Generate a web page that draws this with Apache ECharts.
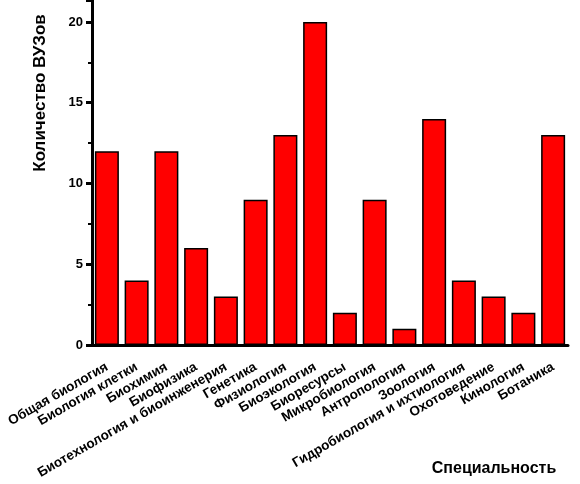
<!DOCTYPE html>
<html><head><meta charset="utf-8">
<script src="https://cdn.jsdelivr.net/npm/echarts@6/dist/echarts.min.js"></script>
<style>html,body{margin:0;padding:0;background:#fff}#c{width:580px;height:484px}</style>
</head><body><div id="c"></div>
<script>
const categories = ["Общая биология","Биология клетки","Биохимия","Биофизика","Биотехнология и биоинженерия","Генетика","Физиология","Биоэкология","Биоресурсы","Микробиология","Антропология","Зоология","Гидробиология и ихтиология","Охотоведение","Кинология","Ботаника"];
const values = [12,4,12,6,3,9,13,20,2,9,1,14,4,3,2,13];
const yTicks = [0,5,10,15,20];
const yTitle = "Количество ВУЗов";
const xTitle = "Специальность";

const chart = echarts.init(document.getElementById('c'), null, {renderer:'canvas'});
const F = 'Arial, "Liberation Sans", sans-serif';
chart.setOption({
  animation:false,
  backgroundColor:'#fff',
  grid:{left:92, right:12, top:0, bottom:139, containLabel:false},
  xAxis:{
    type:'category', data:categories,
    axisLine:{lineStyle:{color:'#000', width:3}},
    axisTick:{alignWithLabel:true, length:6, lineStyle:{color:'#000', width:3}},
    axisLabel:{rotate:30, interval:0, margin:21, color:'#000', fontFamily:F, fontWeight:'bold', fontSize:13.5}
  },
  yAxis:{
    type:'value', min:0, max:21.36, interval:5,
    axisLine:{show:true, lineStyle:{color:'#000', width:3}},
    axisTick:{show:true, length:6, lineStyle:{color:'#000', width:3}},
    minorTick:{show:true, splitNumber:2, length:4, lineStyle:{color:'#000', width:2}},
    splitLine:{show:false},
    axisLabel:{margin:9, color:'#000', fontFamily:F, fontWeight:'bold', fontSize:13,
      formatter:function(v){return yTicks.indexOf(v)>=0 ? String(v) : '';}}
  },
  series:[{
    type:'bar', data:values, barWidth:24,
    itemStyle:{color:'#ff0000', borderColor:'#000', borderWidth:1.5}
  }],
  graphic:[
    {type:'text', x:40, y:93, rotation:Math.PI/2,
      style:{text:yTitle, font:'bold 17px '+F, fill:'#000', textAlign:'center', textVerticalAlign:'middle'}},
    {type:'text', x:494, y:469,
      style:{text:xTitle, font:'bold 16px '+F, fill:'#000', textAlign:'center', textVerticalAlign:'middle'}}
  ]
});
</script></body></html>
